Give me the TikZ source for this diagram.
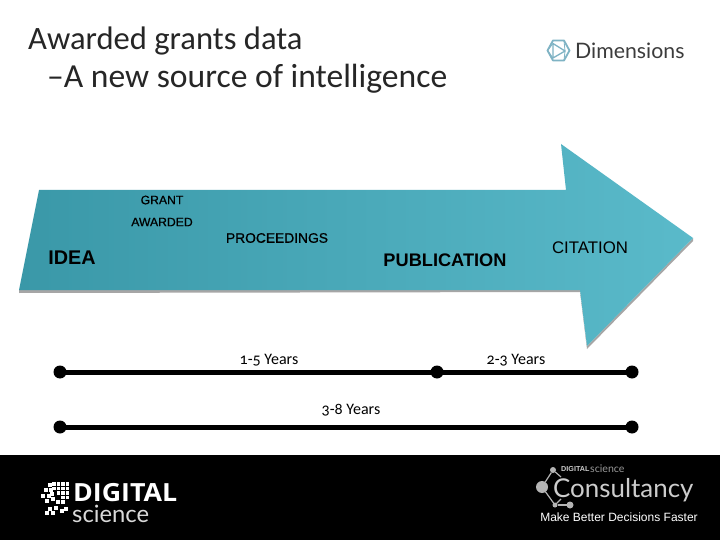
\documentclass[tikz,border=0pt]{standalone}
\usepackage{fontspec}
\setmainfont{Carlito}
\newfontfamily\arialf{Liberation Sans}
\newfontfamily\arialsemi[FakeBold=0.7]{Liberation Sans}
\newfontfamily\oldf[Numbers=OldStyle]{Carlito}
\newfontfamily\latof{Lato}
\newfontfamily\openf{Open Sans}
\usetikzlibrary{calc}
\definecolor{arrowL}{HTML}{3A98A8}
\definecolor{arrowM}{HTML}{43A4B4}
\definecolor{arrowR}{HTML}{5ABACA}
\definecolor{dimblue}{HTML}{7FB3C4}
\definecolor{dimtext}{HTML}{3C3C3C}
\definecolor{conschk}{HTML}{B4B4B4}
\tikzset{
  x=1pt,y=-1pt,
  lab/.style={inner sep=0pt,anchor=center,text=black},
  small/.style={lab,font=\arialsemi\fontsize{12.2}{14}\selectfont},
  mid/.style={lab,font=\arialsemi\fontsize{13.8}{16}\selectfont},
  big/.style={lab,font=\arialf\bfseries\fontsize{19.8}{22}\selectfont},
  years/.style={lab,font=\oldf\fontsize{16}{18}\selectfont},
  title/.style={inner sep=0pt,anchor=west,text=black!85},
  dot/.style={circle,fill=black,inner sep=0pt,outer sep=0pt,minimum size=13pt},
  span/.style={line width=5pt,black,shorten <=-2pt,shorten >=-2pt},
  cdot/.style={circle,fill=conschk,inner sep=0pt,outer sep=0pt},
  cline/.style={conschk,line width=1.2pt},
  dline/.style={dimblue,line join=round}
}
\begin{document}
\begin{tikzpicture}
\useasboundingbox (0,0) rectangle (720,540);
\fill[white] (0,0) rectangle (720,540);
% titles
\node[title,font=\fontsize{32.6}{36}\selectfont] (t1) at (28,41) {Awarded grants data};
\node[title,font=\fontsize{33.6}{36}\selectfont] (t2) at (47,79) {–A new source of intelligence};
% Dimensions logo
\draw[dline,line width=1.8pt] (547.5,50.5) -- (553,40.5) -- (564,40.5) -- (569.5,50.5) -- (564,60.5) -- (553,60.5) -- cycle;
\draw[dline,line width=1.3pt] (553,43.5) -- (565,51) -- (553,58) -- cycle;
\draw[dline,line width=.8pt] (547.5,50.5) -- (553,43.5) (547.5,50.5) -- (553,58) (564,40.5) -- (565,51) -- (564,60.5);
\node[inner sep=0pt,anchor=west,text=dimtext,font=\latof\fontsize{21.3}{24}\selectfont] (dim) at (575,51) {Dimensions};
% arrow
\fill[black!35] (19,293) -- (580,292) -- (587,349) -- (693,241) -- (693,238) -- (587,346) -- (580,289) -- (19,290) -- cycle;
\shade[left color=arrowL,middle color=arrowM,right color=arrowR] (39,190) -- (566,190) -- (561,144) -- (693,238) -- (587,346) -- (580,290) -- (19,290) -- cycle;
% arrow labels
\node[small] (grant) at (162,200) {GRANT};
\node[small] (award) at (162,222) {AWARDED};
\node[big] (idea) at (72,258) {IDEA};
\node[mid] (proc) at (277,238) {PROCEEDINGS};
\node[lab,font=\arialf\bfseries\fontsize{18.2}{20}\selectfont] (pub) at (445,260) {PUBLICATION};
\node[lab,font=\arialf\fontsize{16.8}{18}\selectfont] (cit) at (590,248) {CITATION};
% spans
\node[dot] (a1) at (60,372) {};
\node[dot] (a2) at (437,372) {};
\node[dot] (a3) at (632,372) {};
\node[dot] (b1) at (60,427) {};
\node[dot] (b2) at (632,427) {};
\draw[span] (a1) -- (a2);
\draw[span] (a2) -- (a3);
\draw[span] (b1) -- (b2);
\node[years] (y1) at (269,360) {1-5 Years};
\node[years] (y2) at (516,360) {2-3 Years};
\node[years] (y3) at (351,410) {3-8 Years};
% footer
\fill[black] (0,455) rectangle (720,540);
% Digital Science logo
\foreach \cx/\cy in {54/484,58.5/484,63/484,67.5/484,54/488.5,58.5/488.5,63/488.5,67.5/488.5,58.5/493,63/493,67.5/493,63/497.5,67.5/497.5,50/485,46/490,51/490,43/496,49/496,52/494,47/501,53/499,58/502,63/502,50/509,56/508,62/511,66/509,47/513,53/513}
  \fill[white] (\cx-1.7,\cy-1.7) rectangle (\cx+1.7,\cy+1.7);
\node[inner sep=0pt,anchor=west,text=white,font=\openf\bfseries\fontsize{25}{26}\selectfont] (dig) at (73,493) {\scalebox{1.07}[1]{DIGITAL}};
\node[inner sep=0pt,anchor=west,text=white!85!black,font=\latof\fontsize{23.8}{25}\selectfont] (sci) at (72,514) {science};
% Consultancy logo
\node[cdot,minimum size=6pt] (c1) at (553,470) {};
\node[cdot,minimum size=12pt] (c2) at (542,487) {};
\node[cdot,minimum size=5pt] (c3) at (555,505) {};
\node[cdot,minimum size=7pt] (c4) at (570,505) {};
\coordinate (c5) at (561,477);
\coordinate (c6) at (561,499);
\draw[cline] (c1) -- (c2);
\draw[cline] (c2) -- (c3);
\draw[cline] (c3) -- (c4);
\draw[cline] (c1) -- (c5);
\draw[cline] (c3) -- (c6);
\node[inner sep=0pt,anchor=west,text=white!80!black,font=\arialf\bfseries\fontsize{7.2}{8}\selectfont] (ds) at (561,469) {DIGITAL};
\node[inner sep=0pt,anchor=west,text=white!60!black,font=\latof\fontsize{10.6}{11}\selectfont] (ds2) at (590,469) {science};
\node[inner sep=0pt,anchor=west,text=white!80!black,font=\latof\fontsize{25.9}{28}\selectfont] (cons) at (553,490) {Consultancy};
\node[inner sep=0pt,anchor=center,text=white,font=\arialf\fontsize{12}{14}\selectfont] (tag) at (619,517) {Make Better Decisions Faster};
\end{tikzpicture}
\end{document}
